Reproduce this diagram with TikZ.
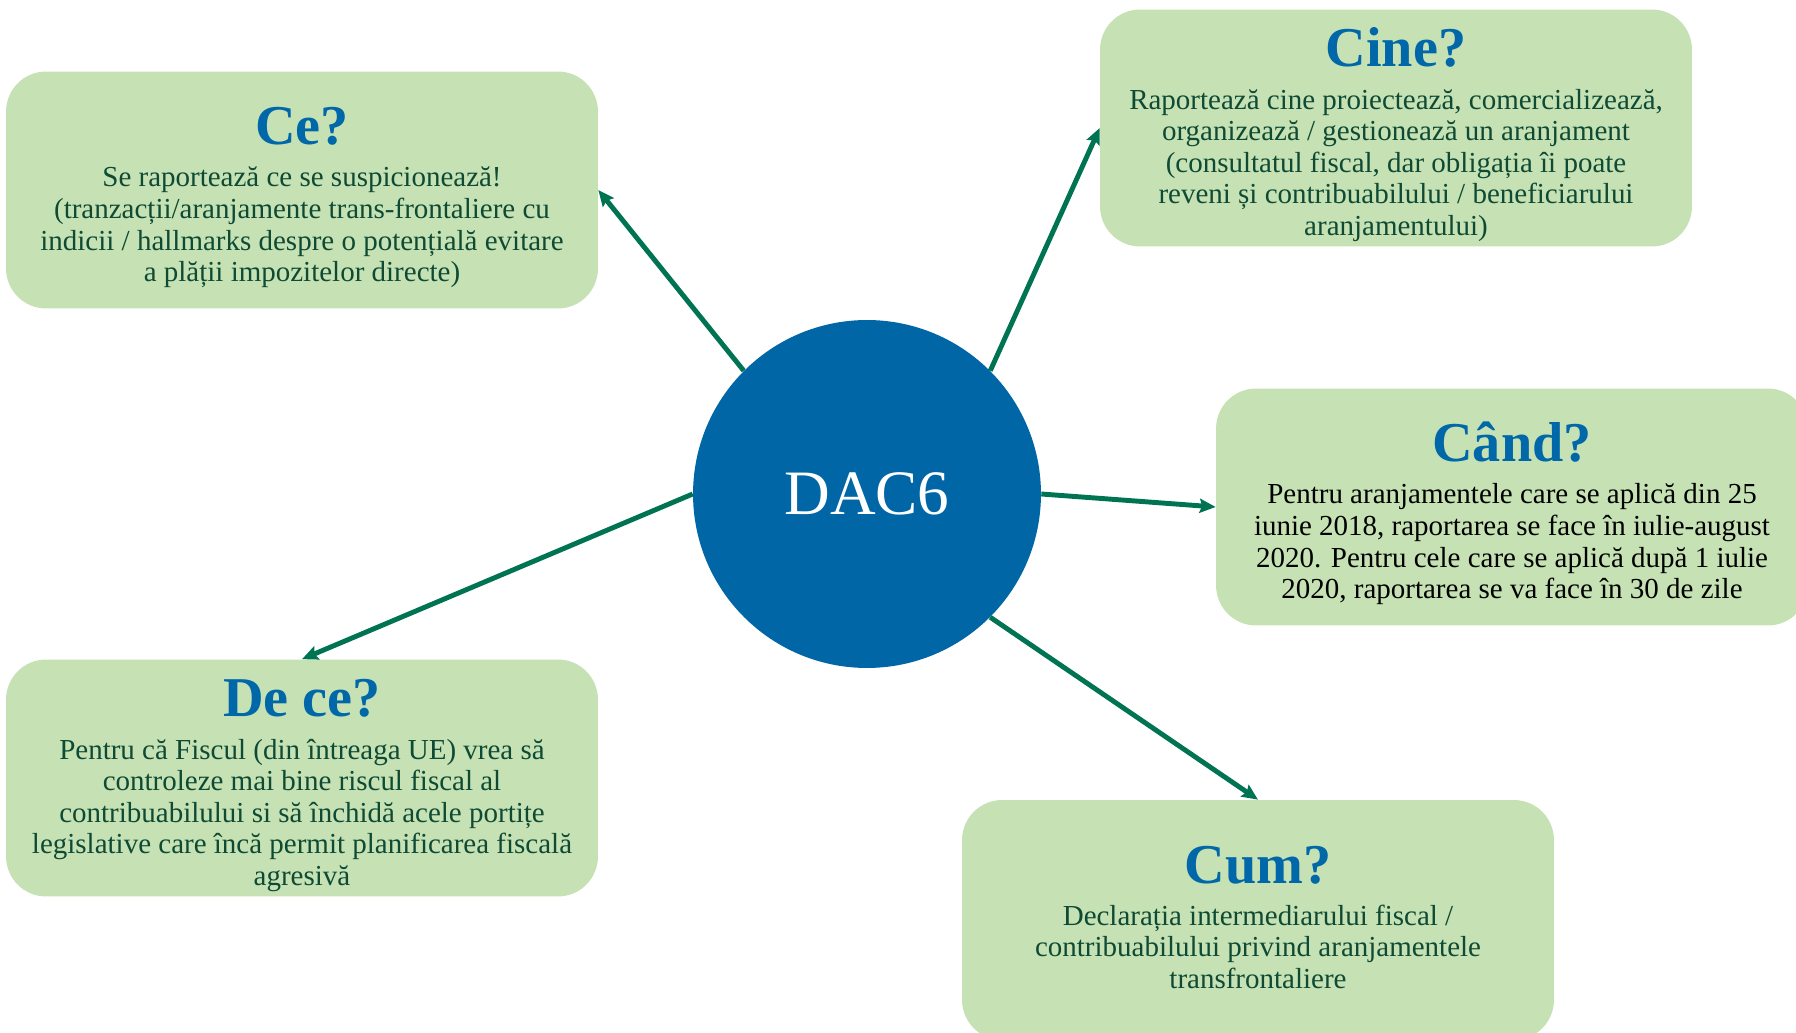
\documentclass[tikz,border=0pt]{standalone}
\usepackage{fontspec}
\setmainfont{Liberation Serif}
\usepackage{xcolor}
\usepackage{tikz}
\usetikzlibrary{arrows.meta}
\definecolor{boxgreen}{RGB}{198,226,180}
\definecolor{titleblue}{RGB}{0,103,168}
\definecolor{textgreen}{RGB}{14,74,52}
\definecolor{arrowgreen}{RGB}{0,116,82}
\definecolor{dacblue}{RGB}{0,102,166}
\newcommand{\ttl}[1]{{\fontsize{32}{30}\selectfont\bfseries\color{titleblue}\rule{0pt}{30pt}#1}}
\tikzset{
  qbox/.style={rounded corners=0.8cm, fill=boxgreen, text=textgreen, align=center,
    minimum width=11.84cm, minimum height=4.74cm, inner sep=0pt},
  link/.style={-{Stealth[length=0.32cm, width=0.28cm, inset=0.05cm]}, line width=2.8pt, draw=arrowgreen}
}

\begin{document}
\begin{tikzpicture}[x=0.02cm, y=-0.02cm, every node/.style={font=\fontsize{16.5}{18}\selectfont}]
\useasboundingbox (0,0) rectangle (1796,1033);
\node[circle, fill=dacblue, minimum size=6.96cm, text=white, font=\fontsize{36}{40}\selectfont] (dac) at (867,494) {DAC6};
\node[qbox] (ce) at (302,190) {\ttl{Ce?}\\[6pt] Se raportează ce se suspicionează!\\ (tranzacții/aranjamente trans-frontaliere cu\\ indicii / hallmarks despre o potențială evitare\\ a plății impozitelor directe)};
\node[qbox] (cine) at (1396,128) {\ttl{Cine?}\\[6pt] Raportează cine proiectează, comercializează,\\ organizează / gestionează un aranjament\\ (consultatul fiscal, dar obligația îi poate\\ reveni și contribuabilului / beneficiarului\\ aranjamentului)};
\node[qbox, text=black] (cand) at (1512,507) {\ttl{Când?}\\[6pt] Pentru aranjamentele care se aplică din 25\\ iunie 2018, raportarea se face în iulie-august\\ 2020. Pentru cele care se aplică după 1 iulie\\ 2020, raportarea se va face în 30 de zile};
\node[qbox] (dece) at (302,778) {\ttl{De ce?}\\[6pt] Pentru că Fiscul (din întreaga UE) vrea să\\ controleze mai bine riscul fiscal al\\ contribuabilului si să închidă acele portițe\\ legislative care încă permit planificarea fiscală\\ agresivă};
\node[qbox, minimum height=4.8cm] (cum) at (1258,920) {\ttl{Cum?}\\[6pt] Declarația intermediarului fiscal /\\ contribuabilului privind aranjamentele\\ transfrontaliere\rule[-12pt]{0pt}{1pt}};
\draw[link] (dac.135) -- (ce.east);
\draw[link] (dac.45) -- (cine.west);
\draw[link] (dac.0) -- (cand.west);
\draw[link] (dac.-45) -- (cum.north);
\draw[link] (dac.180) -- (dece.north);
\end{tikzpicture}
\end{document}
